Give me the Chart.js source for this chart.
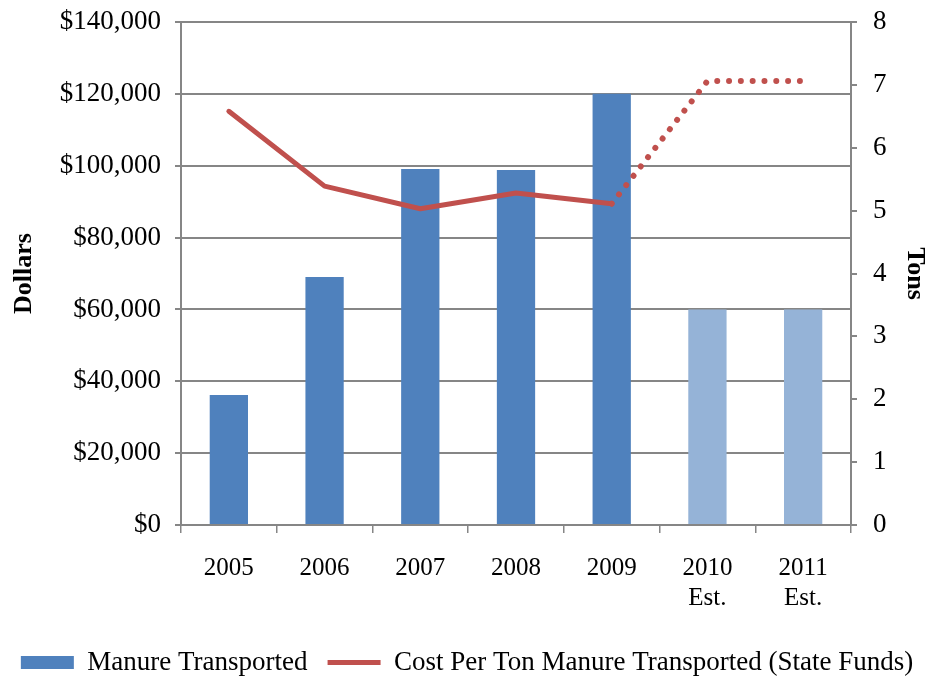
<!DOCTYPE html>
<html>
<head>
<meta charset="utf-8">
<script src="https://cdn.jsdelivr.net/npm/chart.js"></script>
<style>
  html, body { margin: 0; padding: 0; background: #fff; }
  #wrap { width: 934px; height: 677px; }
</style>
</head>
<body>
<div id="wrap"><canvas id="chart" width="934" height="677"></canvas></div>
<script>
const years = [['2005'], ['2006'], ['2007'], ['2008'], ['2009'], ['2010', 'Est.'], ['2011', 'Est.']];
const manureDollars = [36200, 69000, 99100, 98800, 120000, 60000, 60000];
const costPerTon = [6.58, 5.39, 5.03, 5.28, 5.11, 7.06, 7.06];
const barColors = ['#4F81BD', '#4F81BD', '#4F81BD', '#4F81BD', '#4F81BD', '#95B3D7', '#95B3D7'];
const lastActual = 4; // 2009, after that the line is an estimate

const axisGray = '#868686';
const family = '"Liberation Serif", "Times New Roman", serif';
const font = { family: family, size: 27 };
const xFont = { family: family, size: 25 };

// fixed axis sizes so the plot area lands where the original has it
function fixY(width) {
    return s => {
        s.width = width;
        s.paddingTop = 0;
        s.paddingBottom = 0;
    };
}

const isEstimate = c => c.p0DataIndex >= lastActual;

const ctx = document.getElementById('chart').getContext('2d');
new Chart(ctx, {
    data: {
        labels: years,
        datasets: [
            {
                type: 'line',
                label: 'Cost Per Ton Manure Transported (State Funds)',
                data: costPerTon,
                yAxisID: 'yTons',
                borderColor: '#C0504D',
                backgroundColor: '#C0504D',
                borderWidth: 5,
                borderCapStyle: 'round',
                borderJoinStyle: 'round',
                pointRadius: 0,
                tension: 0,
                order: 0,
                segment: {
                    borderDash: c => isEstimate(c) ? [0.01, 11.8] : undefined,
                    borderWidth: c => isEstimate(c) ? 6 : undefined
                }
            },
            {
                type: 'bar',
                label: 'Manure Transported',
                data: manureDollars,
                yAxisID: 'yDollars',
                backgroundColor: barColors,
                barPercentage: 0.4,
                categoryPercentage: 1,
                order: 1
            }
        ]
    },
    options: {
        responsive: false,
        animation: false,
        layout: { padding: { top: 22, left: 0, right: 0, bottom: -9 } },
        plugins: {
            tooltip: { enabled: false },
            legend: {
                position: 'bottom',
                labels: {
                    color: '#000',
                    font: font,
                    usePointStyle: true,
                    pointStyleWidth: 53,
                    boxHeight: 13,
                    padding: 20,
                    generateLabels: () => [
                        { text: 'Manure Transported', pointStyle: 'rect', fillStyle: '#4F81BD', strokeStyle: '#4F81BD', lineWidth: 0, datasetIndex: 1 },
                        { text: 'Cost Per Ton Manure Transported (State Funds)', pointStyle: 'line', fillStyle: '#C0504D', strokeStyle: '#C0504D', lineWidth: 5, datasetIndex: 0 }
                    ]
                }
            }
        },
        scales: {
            x: {
                offset: true,
                grid: { display: true, offset: true, drawOnChartArea: false, color: axisGray, lineWidth: 1.5, tickLength: 8 },
                border: { color: axisGray, width: 2 },
                ticks: { color: '#000', font: xFont, padding: 20, maxRotation: 0 },
                afterFit: s => { s.height = 104; }
            },
            yDollars: {
                position: 'left',
                min: 0,
                max: 140000,
                ticks: {
                    stepSize: 20000,
                    color: '#000',
                    font: font,
                    padding: 14,
                    callback: v => '$' + v.toLocaleString('en-US')
                },
                grid: { color: axisGray, lineWidth: 2, tickLength: 6 },
                border: { color: axisGray, width: 2 },
                title: {
                    display: true,
                    text: 'Dollars',
                    color: '#000',
                    font: { family: family, size: 26, weight: 'bold' },
                    padding: { top: 9, bottom: 0 }
                },
                afterFit: fixY(181)
            },
            yTons: {
                position: 'right',
                min: 0,
                max: 8,
                ticks: { stepSize: 1, color: '#000', font: font, padding: 16 },
                grid: { drawOnChartArea: false, color: axisGray, lineWidth: 2, tickLength: 6 },
                border: { color: axisGray, width: 2 },
                title: {
                    display: true,
                    text: 'Tons',
                    color: '#000',
                    font: { family: family, size: 26, weight: 'bold' },
                    padding: { top: 4, bottom: 0 }
                },
                afterFit: fixY(83)
            }
        }
    }
});
</script>
</body>
</html>
